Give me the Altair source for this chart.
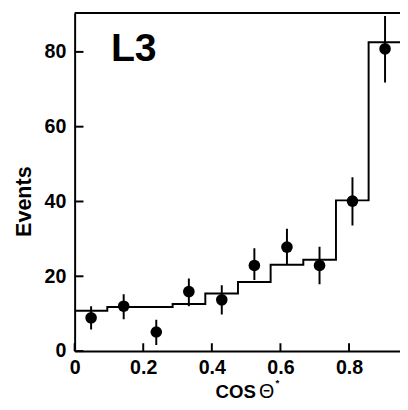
import altair as alt
import pandas as pd

# Histogram bin edges and heights (prediction)
edges = [0.0, 0.0952, 0.1905, 0.2857, 0.381, 0.4762, 0.5714, 0.6667, 0.7619, 0.8571, 0.9524]
hist = [10.8, 11.8, 11.8, 12.6, 15.4, 18.5, 23.1, 24.4, 40.3, 82.6]

# Data points with error bars
centers = [0.048, 0.143, 0.238, 0.333, 0.429, 0.524, 0.619, 0.714, 0.81, 0.905]
events = [8.9, 12.0, 5.1, 15.9, 13.7, 22.9, 27.8, 22.9, 40.1, 80.8]
err_lo = [5.8, 8.5, 1.6, 12.0, 9.8, 19.0, 23.1, 17.9, 33.6, 71.8]
err_hi = [12.0, 15.2, 8.4, 19.4, 17.6, 27.5, 32.7, 27.9, 46.5, 89.6]

x_ticks = [0, 0.2, 0.4, 0.6, 0.8]
y_ticks = [0, 20, 40, 60, 80]

X_MAX = 0.9486
Y_MAX = 90.4
W, H = 332, 345
FONT = "Liberation Sans"

step_df = pd.DataFrame({"x": edges, "y": hist + [hist[-1]]})
pts_df = pd.DataFrame({"x": centers, "y": events, "lo": err_lo, "hi": err_hi})
xt_df = pd.DataFrame({"x": x_ticks})
yt_df = pd.DataFrame({"y": y_ticks})

xscale = alt.Scale(domain=[0, X_MAX], nice=False, zero=False)
yscale = alt.Scale(domain=[0, Y_MAX], nice=False, zero=False)

xaxis = alt.Axis(
    values=x_ticks, ticks=False, grid=False, domainColor="black", domainWidth=2,
    labelFont=FONT, labelFontWeight="bold", labelFontSize=20, labelColor="black",
    labelPadding=7, labelFlush=False,
    labelExpr="datum.value == 0 ? '0' : format(datum.value, '.1f')",
    title=None,
)
yaxis = alt.Axis(
    values=y_ticks, ticks=False, grid=False, domainColor="black", domainWidth=2,
    labelFont=FONT, labelFontWeight="bold", labelFontSize=20, labelColor="black",
    labelPadding=9, labelFlush=False,
    title="Events", titleFont=FONT, titleFontWeight="bold", titleFontSize=22,
    titleColor="black", titlePadding=9, titleY=192,
)

step = alt.Chart(step_df).mark_line(
    interpolate="step-after", color="black", strokeWidth=2, clip=True
).encode(
    x=alt.X("x:Q", scale=xscale, axis=xaxis),
    y=alt.Y("y:Q", scale=yscale, axis=yaxis),
)

bars = alt.Chart(pts_df).mark_rule(color="black", strokeWidth=2, clip=True).encode(
    x=alt.X("x:Q", scale=xscale),
    y=alt.Y("lo:Q", scale=yscale),
    y2="hi:Q",
)

dots = alt.Chart(pts_df).mark_point(
    filled=True, color="black", size=140, opacity=1, shape="circle", clip=True
).encode(
    x=alt.X("x:Q", scale=xscale),
    y=alt.Y("y:Q", scale=yscale),
)

xt = alt.Chart(xt_df).mark_rule(color="black", strokeWidth=2).encode(
    x=alt.X("x:Q", scale=xscale),
    y=alt.value(H),
    y2=alt.value(H - 8),
)

yt = alt.Chart(yt_df).mark_rule(color="black", strokeWidth=2).encode(
    y=alt.Y("y:Q", scale=yscale),
    x=alt.value(0),
    x2=alt.value(9),
)

top = alt.Chart(pd.DataFrame({"a": [0]})).mark_rule(color="black", strokeWidth=2).encode(
    x=alt.value(0), x2=alt.value(W), y=alt.value(0)
)

label = alt.Chart(pd.DataFrame({"t": ["L3"]})).mark_text(
    font=FONT, fontWeight="bold", fontSize=40, color="black",
    align="left", baseline="alphabetic",
).encode(
    text="t:N", x=alt.value(37), y=alt.value(49)
)

# x-axis title: "COS" bold, Θ regular, superscript asterisk
t_cos = alt.Chart(pd.DataFrame({"t": ["COS"]})).mark_text(
    font=FONT, fontWeight="bold", fontSize=19, color="black",
    align="right", baseline="alphabetic",
).encode(text="t:N", x=alt.value(185), y=alt.value(393))

t_theta = alt.Chart(pd.DataFrame({"t": ["Θ"]})).mark_text(
    font=FONT, fontWeight="normal", fontSize=20, color="black",
    align="left", baseline="alphabetic",
).encode(text="t:N", x=alt.value(188), y=alt.value(393))

t_star = alt.Chart(pd.DataFrame({"t": ["*"]})).mark_text(
    font=FONT, fontWeight="bold", fontSize=10, color="black",
    align="left", baseline="alphabetic",
).encode(text="t:N", x=alt.value(205), y=alt.value(381))

chart = alt.layer(step, bars, dots, xt, yt, top, label, t_cos, t_theta, t_star).properties(
    width=W, height=H,
    autosize=alt.AutoSizeParams(type="none"),
    padding={"left": 68, "top": 1, "right": 0, "bottom": 55},
).configure_view(stroke=None).configure(background="white")

chart.save("out.html", embed_options={"renderer": "svg", "actions": False})
